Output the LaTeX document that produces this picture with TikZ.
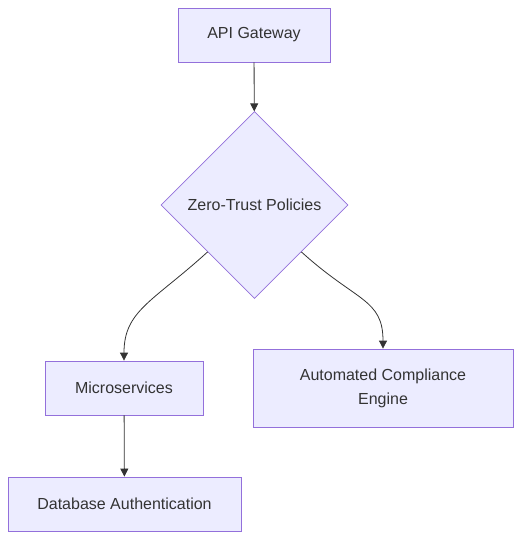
\documentclass[tikz,border=0pt]{standalone}
\usepackage{fontspec}
\setmainfont{Liberation Sans}
\usetikzlibrary{shapes.geometric,arrows.meta}
\definecolor{boxfill}{HTML}{ECECFF}
\definecolor{boxline}{HTML}{9370DB}
\definecolor{ink}{HTML}{333333}

\begin{document}
\begin{tikzpicture}[x=1pt, y=-1pt,
    box/.style = {rectangle, draw=boxline, fill=boxfill, line width=0.8pt, inner sep=0pt, text=ink,
                  font=\fontsize{16}{24}\selectfont, align=center},
    decision/.style = {diamond, draw=boxline, fill=boxfill, line width=0.8pt, inner sep=0pt, text=ink,
                  font=\fontsize{16}{24}\selectfont, minimum width=187pt, minimum height=187pt},
    link/.style = {draw=ink, line width=0.8pt, -{Triangle[length=8pt, width=8pt]}}]
    \useasboundingbox (0, 0) rectangle (522, 540);

    \node (gw) [box, minimum width=152pt, minimum height=54pt] at (254, 35) {API Gateway};
    \node (zt) [decision] at (254.5, 205) {Zero-Trust Policies};
    \node (ms) [box, minimum width=158pt, minimum height=54pt] at (124, 388) {Microservices};
    \node (ace) [box, minimum width=260pt, minimum height=78pt] at (383, 388) {Automated Compliance\\Engine};
    \node (db) [box, minimum width=233pt, minimum height=54pt] at (124.5, 504) {Database Authentication};

    \draw [link] (gw) -- (zt);
    \draw [link] (zt.south west) .. controls +(-55, 50) and +(0, -50) .. (ms.north);
    \draw [link] (zt.south east) .. controls +(55, 50) and +(0, -50) .. (ace.north);
    \draw [link] (ms) -- (db);
  \end{tikzpicture}
\end{document}
